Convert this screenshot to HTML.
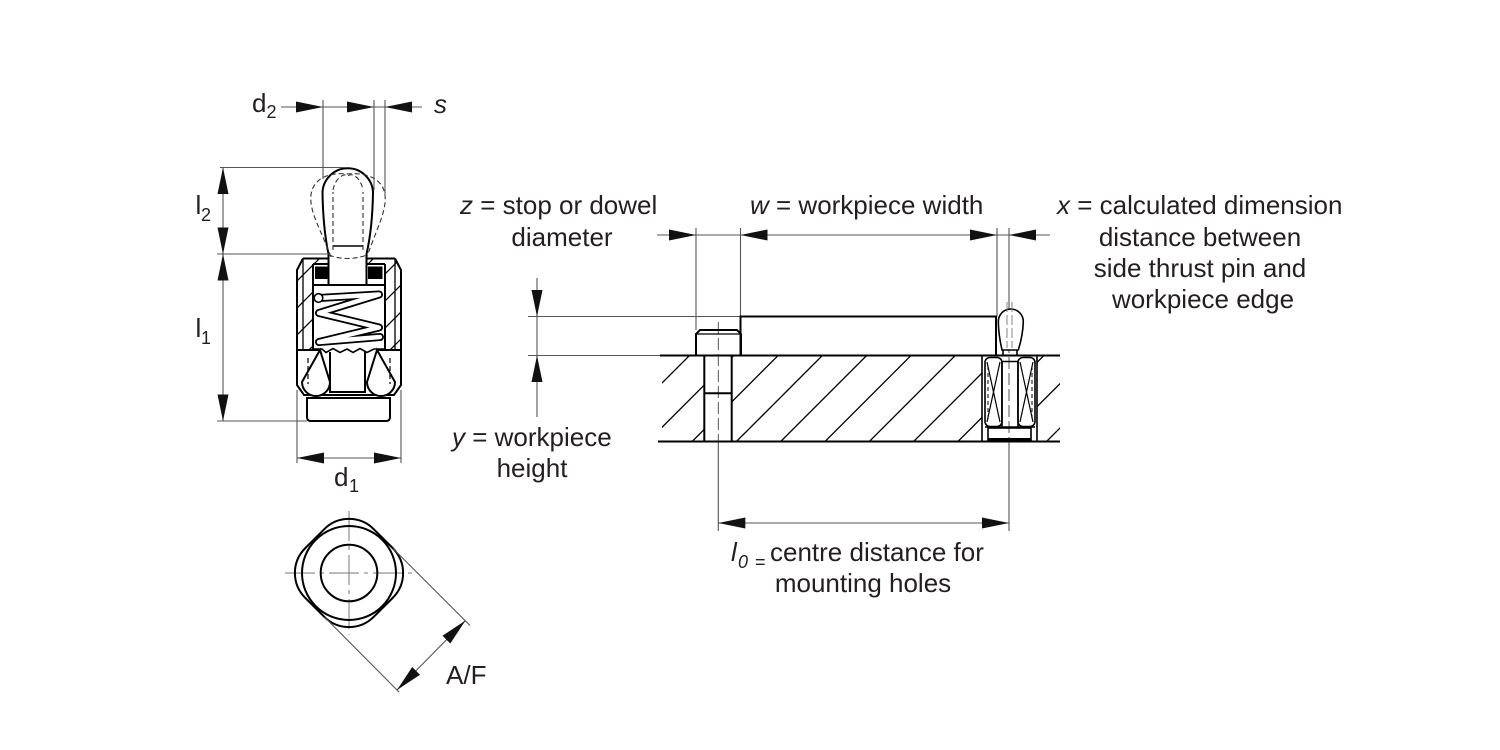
<!DOCTYPE html>
<html>
<head>
<meta charset="utf-8">
<style>
html,body{margin:0;padding:0;background:#fff;}
svg{display:block;}
text{font-family:"Liberation Sans",Arial,sans-serif;fill:#231f20;}
</style>
</head>
<body>
<svg width="1500" height="750" viewBox="0 0 1500 750" xmlns="http://www.w3.org/2000/svg">
<defs>
<clipPath id="lw"><polygon points="297,270 303,258.5 328.5,258.5 328.5,264 313,264 313,350 297,350"/></clipPath>
<clipPath id="rw"><polygon points="401,270 395,258.5 366.5,258.5 366.5,264 385,264 385,350 401,350"/></clipPath>
<clipPath id="pl"><path d="M662,355.5H704V441.5H662Z M732,355.5H982V441.5H732Z M1037,355.5H1060V441.5H1037Z"/></clipPath>
</defs>
<rect width="1500" height="750" fill="#fff"/>

<!-- ========== LEFT VIEW: hatching ========== -->
<g stroke="#000" stroke-width="1.3" clip-path="url(#lw)">
<line x1="301" y1="250" x2="191" y2="360"/><line x1="328" y1="250" x2="218" y2="360"/>
<line x1="355" y1="250" x2="245" y2="360"/><line x1="382" y1="250" x2="272" y2="360"/>
<line x1="409" y1="250" x2="299" y2="360"/><line x1="436" y1="250" x2="326" y2="360"/>
<line x1="463" y1="250" x2="353" y2="360"/>
</g>
<g stroke="#000" stroke-width="1.3" clip-path="url(#rw)">
<line x1="382" y1="250" x2="272" y2="360"/><line x1="409" y1="250" x2="299" y2="360"/>
<line x1="436" y1="250" x2="326" y2="360"/><line x1="463" y1="250" x2="353" y2="360"/>
<line x1="490" y1="250" x2="380" y2="360"/><line x1="517" y1="250" x2="407" y2="360"/>
</g>

<!-- spring -->
<polyline points="319,298 379,294.5 319,313 379,327.5 319,342 380,337" fill="none" stroke="#000" stroke-width="8" stroke-linejoin="round" stroke-linecap="round"/>
<polyline points="319,298 379,294.5 319,313 379,327.5 319,342 380,337" fill="none" stroke="#fff" stroke-width="4.4" stroke-linejoin="round" stroke-linecap="round"/>
<circle cx="318.5" cy="298" r="4.3" fill="#fff" stroke="#000" stroke-width="1.6"/>

<!-- body outlines -->
<g fill="none" stroke="#000" stroke-width="2">
<path d="M303,258.5H328.5 M366.5,258.5H395 M303,258.5L297,270V385L304,395H394L401,385V270L395,258.5"/>
<path d="M313,264V350 M385,264V350 M313,264H328.5 M366.5,264H385 M313,285H385"/>
<path d="M328.5,254V285 M366.5,254V285"/>
<path d="M297,350H320 M377,350H401"/>
<polyline points="313,349 322,349 326,352.5 333,348.5 340,352.5 347,349 353,352.5 360,348.5 367,352.5 374,349 385,349" stroke-width="1.6"/>
<path d="M330,352V392H365V352"/>
<path d="M320,350L302,382A14,14 0 0 0 330,382Z" fill="#fff"/>
<path d="M377,350L367,382A14,14 0 0 0 395,382Z" fill="#fff"/>
<path d="M307,398H390V417Q390,421 386,421H311Q307,421 307,417Z"/>
</g>
<path d="M303,258.5V350 M395,258.5V350" stroke="#000" stroke-width="1.3" fill="none"/>
<path d="M308,358V384 M390,358V384" stroke="#000" stroke-width="1.2" stroke-dasharray="5 3" fill="none"/>
<rect x="315" y="266.5" width="13" height="12.5" fill="#000"/>
<rect x="368" y="266.5" width="14.5" height="12.5" fill="#000"/>

<!-- pin (left view) -->
<path d="M328.5,254Q323,228 322.5,192A25.3,25.3 0 0 1 373,192Q372.5,228 366.5,254" fill="none" stroke="#000" stroke-width="2"/>
<path d="M333,246H363" stroke="#000" stroke-width="1.6"/>
<g fill="none" stroke="#333" stroke-width="1.1" stroke-dasharray="5 3">
<path d="M331,257C322,232 309,212 311,195C313,178 330,172 347,174C365,172 383,178 385,195C387,212 375,232 367,257"/>
<path d="M333,250V192 M363,250V192"/>
<path d="M333,190C335,178 345,172 348,176C352,172 361,178 363,190"/>
<path d="M329,255Q347,262 367,255"/>
</g>

<!-- left view dimensions -->
<g stroke="#555" stroke-width="1.1" fill="none">
<path d="M281,107H422"/>
<path d="M323,100V179 M374,100V190 M385,100V197"/>
<path d="M220,167.5H347 M217,254H330 M217,421H307"/>
<path d="M223,167.5V421"/>
<path d="M297,390V463 M401,390V463 M297,458H401"/>
</g>
<g fill="#111">
<polygon points="323,107 296,101.5 296,112.5"/>
<polygon points="374,107 347,101.5 347,112.5"/>
<polygon points="385,107 412,101.5 412,112.5"/>
<polygon points="223,167.5 217.5,194 228.5,194"/>
<polygon points="223,254 217.5,227.5 228.5,227.5"/>
<polygon points="223,254 217.5,280.5 228.5,280.5"/>
<polygon points="223,421 217.5,394.5 228.5,394.5"/>
<polygon points="297,458 324,452.5 324,463.5"/>
<polygon points="401,458 374,452.5 374,463.5"/>
</g>
<text x="252" y="112" font-size="26">d</text><text x="266.5" y="118" font-size="18">2</text>
<text x="434" y="113" font-size="26" font-style="italic">s</text>
<text x="195.5" y="214" font-size="26">l</text><text x="201" y="221" font-size="18">2</text>
<text x="195.5" y="337" font-size="26">l</text><text x="201" y="344" font-size="18">1</text>
<text x="334" y="486" font-size="26">d</text><text x="349" y="492" font-size="18">1</text>

<!-- ========== BOTTOM VIEW (A/F) ========== -->
<g stroke="#777" stroke-width="1" fill="none" stroke-dasharray="30 5 4 5">
<path d="M285,573H412"/>
<path d="M349,511V635"/>
</g>
<g fill="none" stroke="#000" stroke-width="2">
<path d="M324.26,529.16A35,35 0 0 1 373.74,529.16L392.84,548.26A35,35 0 0 1 392.84,597.74L373.74,616.84A35,35 0 0 1 324.26,616.84L305.16,597.74A35,35 0 0 1 305.16,548.26Z"/>
<circle cx="349" cy="573" r="47"/>
<circle cx="349" cy="573" r="28.3"/>
</g>
<g stroke="#555" stroke-width="1.1" fill="none">
<path d="M393,548.5L470,625.5 M324.5,617L399,692"/>
<path d="M397,690L465.5,620.5"/>
</g>
<g fill="#111">
<polygon points="465.5,620.5 450.3,643.5 442.5,635.7"/>
<polygon points="397,690 420,674.8 412.2,667"/>
</g>
<text x="446" y="684" font-size="26">A/F</text>

<!-- ========== RIGHT ASSEMBLY ========== -->
<g stroke="#000" stroke-width="1.3" clip-path="url(#pl)">
<line x1="695" y1="350" x2="595" y2="450"/>
<line x1="739.3" y1="350" x2="639.3" y2="450"/>
<line x1="783.6" y1="350" x2="683.6" y2="450"/>
<line x1="827.9" y1="350" x2="727.9" y2="450"/>
<line x1="872.2" y1="350" x2="772.2" y2="450"/>
<line x1="916.5" y1="350" x2="816.5" y2="450"/>
<line x1="960.8" y1="350" x2="860.8" y2="450"/>
<line x1="1005.1" y1="350" x2="905.1" y2="450"/>
<line x1="1049.4" y1="350" x2="949.4" y2="450"/>
<line x1="1093.7" y1="350" x2="993.7" y2="450"/>
<line x1="1138" y1="350" x2="1038" y2="450"/>
</g>

<g stroke="#555" stroke-width="1.1" fill="none">
<path d="M657,235H1050"/>
<path d="M696,228V330 M740.5,228V316.5 M997,228V316.5 M1009,228V309"/>
<path d="M537,278V417"/>
<path d="M528,316.5H740.5 M528,355.5H660"/>
<path d="M718.3,441.5V531 M1009,441.5V531"/>
<path d="M718.3,523H1009"/>
</g>
<g stroke="#555" stroke-width="1" fill="none" stroke-dasharray="12 4">
<path d="M718.3,322V441"/>
<path d="M1009,309V441"/>
</g>
<g fill="#111">
<polygon points="696,235 669,229.5 669,240.5"/>
<polygon points="740.5,235 767.5,229.5 767.5,240.5"/>
<polygon points="997,235 970,229.5 970,240.5"/>
<polygon points="1009,235 1036,229.5 1036,240.5"/>
<polygon points="537,316.5 531.5,290 542.5,290"/>
<polygon points="537,355.5 531.5,382 542.5,382"/>
<polygon points="718.3,523 745.3,517.5 745.3,528.5"/>
<polygon points="1009,523 982,517.5 982,528.5"/>
</g>

<g fill="none" stroke="#000" stroke-width="2">
<path d="M660,355.5H1060 M658,441.5H1060"/>
<path d="M740.5,355.5V316.5H996V355.5"/>
<path d="M696,355.5V334L700,330H737L741,334V355.5"/>
<path d="M704.3,355.5V441.5 M731.7,355.5V441.5 M704.3,393.3H731.7"/>
</g>
<path d="M696,334H741" stroke="#000" stroke-width="1.3"/>

<g fill="none" stroke="#000" stroke-width="1.6">
<path d="M982,355.5V441.5 M1037,355.5V441.5"/>
<rect x="985" y="357.5" width="17" height="69" rx="5" fill="#fff"/>
<rect x="1018" y="357.5" width="17" height="69" rx="5" fill="#fff"/>
<path d="M1002,361.5V427 M1018,361.5V427 M1002,361.5H1018 M985,427H1035"/>
<rect x="988" y="428" width="43" height="12"/>
<path d="M1002,350Q998.5,335 998.3,321.5A12.5,12.5 0 0 1 1023.3,321.5Q1023,335 1018.3,350Z M1003,350V355.5 M1017,350V355.5" fill="#fff"/>
</g>
<path d="M987,362L1000,422 M1000,362L987,422 M1020,362L1033,422 M1033,362L1020,422" stroke="#000" stroke-width="1.2" fill="none"/>
<path d="M988,366V420 M1032,366V420" stroke="#000" stroke-width="1" stroke-dasharray="4 3" fill="none"/>
<path d="M1007,302V348 M1012,302V348" stroke="#777" stroke-width="0.9" stroke-dasharray="10 3" fill="none"/>
<rect x="988" y="438" width="43" height="3.5" fill="#000"/>

<!-- labels -->
<text x="460" y="214" font-size="26"><tspan font-style="italic">z</tspan> = stop or dowel</text>
<text x="562" y="246" font-size="26" text-anchor="middle">diameter</text>
<text x="750" y="214" font-size="26"><tspan font-style="italic">w</tspan> = workpiece width</text>
<text x="1057" y="214" font-size="26"><tspan font-style="italic">x</tspan> = calculated dimension</text>
<text x="1200" y="246" font-size="26" text-anchor="middle">distance between</text>
<text x="1200" y="277" font-size="26" text-anchor="middle">side thrust pin and</text>
<text x="1203" y="308" font-size="26" text-anchor="middle">workpiece edge</text>
<text x="452" y="446" font-size="26"><tspan font-style="italic">y</tspan> = workpiece</text>
<text x="532" y="477" font-size="26" text-anchor="middle">height</text>
<text x="731" y="561" font-size="26" font-style="italic">l</text>
<text x="738" y="568" font-size="18" font-style="italic">0</text>
<text x="755" y="568" font-size="18">=</text>
<text x="770" y="561" font-size="26">centre distance for</text>
<text x="863" y="592" font-size="26" text-anchor="middle">mounting holes</text>
</svg>
</body>
</html>
